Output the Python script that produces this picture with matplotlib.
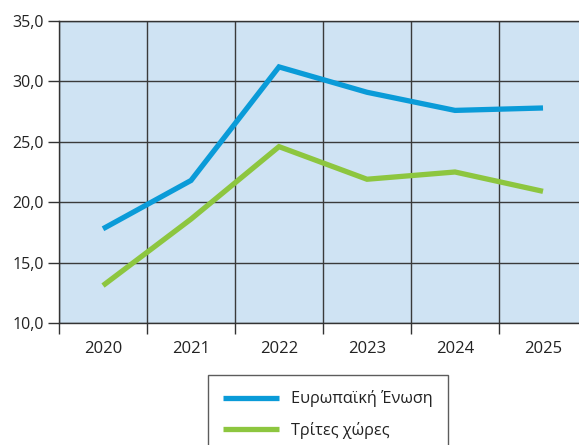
import matplotlib
matplotlib.use("Agg")
import matplotlib.pyplot as plt
from matplotlib.ticker import FuncFormatter, FixedLocator

years = ["2020", "2021", "2022", "2023", "2024", "2025"]
eu = [17.8, 21.8, 31.2, 29.1, 27.6, 27.8]
third = [13.1, 18.6, 24.6, 21.9, 22.5, 20.9]
labels = ["Ευρωπαϊκή Ένωση", "Τρίτες χώρες"]

plt.rcParams['font.family'] = ['Open Sans', 'DejaVu Sans']
fs_x = 12
fs_y = 11.5
fs_leg = 11.7

fig = plt.figure(figsize=(5.79, 4.45), dpi=100)
W = 530.0
ax = fig.add_axes([59/579, 1-323/445, W/579, (323-21)/445])
ax.set_facecolor('#cfe3f3')

x = list(range(len(years)))
l1, = ax.plot(x, eu, color='#0a9bd8', lw=3.8, solid_capstyle='butt', solid_joinstyle='miter', label=labels[0], zorder=3)
l2, = ax.plot(x, third, color='#8dc63f', lw=3.8, solid_capstyle='butt', solid_joinstyle='miter', label=labels[1], zorder=3)

ax.set_ylim(10, 35)
ax.set_xlim(-0.5, -0.5 + W/88)
ax.set_yticks([10, 15, 20, 25, 30, 35])
ax.yaxis.set_major_formatter(FuncFormatter(lambda v, p: f"{v:.1f}".replace('.', ',')))
ax.set_xticks(x)
ax.set_xticklabels(years)
ax.xaxis.set_minor_locator(FixedLocator([i - 0.5 for i in range(len(years))]))
ax.tick_params(axis='x', which='major', length=0, pad=13, labelsize=fs_x, colors='#222222')
ax.tick_params(axis='x', which='minor', length=8, width=1, color='#333333')
ax.tick_params(axis='y', length=8, width=1, color='#333333', pad=3, labelsize=fs_y, labelcolor='#222222')

ax.grid(True, axis='y', color='#3a3a3a', lw=1, zorder=1)
ax.grid(True, axis='x', which='minor', color='#3a3a3a', lw=1, zorder=1)
ax.set_axisbelow(True)
for s in ['left', 'top', 'bottom']:
    ax.spines[s].set_color('#333333')
    ax.spines[s].set_linewidth(1)
ax.spines['right'].set_visible(False)

leg = fig.legend(handles=[l1, l2], loc='upper left', bbox_to_anchor=(208/579, 1-375/445),
                 bbox_transform=fig.transFigure, fontsize=fs_leg, frameon=True, fancybox=False,
                 handlelength=3.4, handletextpad=0.75, borderpad=0.95, labelspacing=0.9,
                 borderaxespad=0)
leg.get_frame().set_edgecolor('#333333')
leg.get_frame().set_linewidth(1)
for t in leg.get_texts():
    t.set_color('#222222')

fig.savefig('out.png', dpi=100)
